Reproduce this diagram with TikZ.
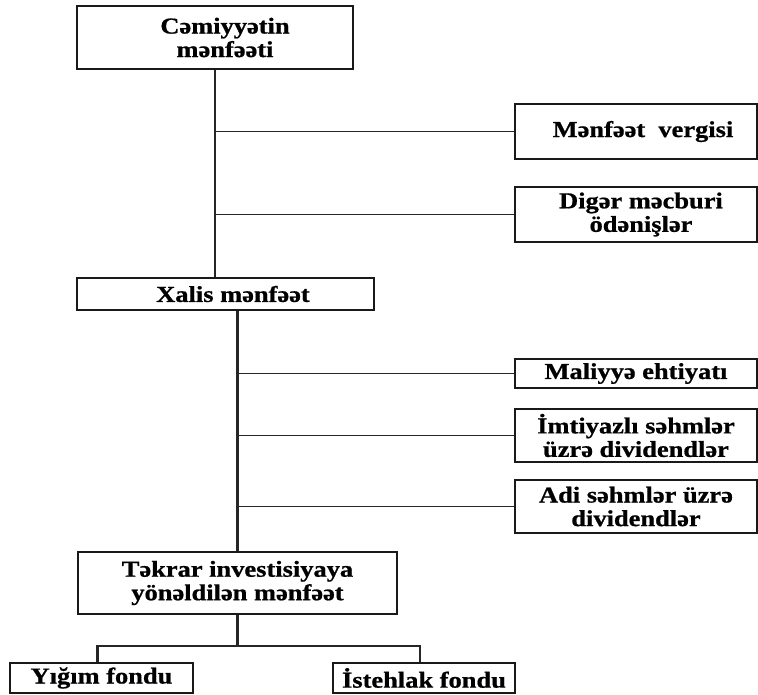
\documentclass[tikz,border=0pt]{standalone}
\usepackage{fontspec}
\setmainfont{Liberation Serif}[FakeStretch=1.16,BoldFeatures={FakeStretch=1.16,FakeBold=0.8}]
\begin{document}
\begin{tikzpicture}[x=1pt,y=-1pt,
  box/.style={draw=black!90,line width=2pt,rectangle,inner sep=0pt,align=center,
    font=\fontsize{22.8}{23.5}\selectfont\bfseries},
  trunk/.style={draw=black!85,line width=2.8pt},
  branch/.style={draw=black!85,line width=1.6pt},
  link/.style={draw=black!85,line width=2.2pt}]
\useasboundingbox (0,0) rectangle (758,694);
\node[box,minimum width=276pt,minimum height=63pt] (b1) at (215,37.5) {\hspace*{20pt}Cəmiyyətin\\\hspace*{20pt}mənfəəti};
\node[box,minimum width=242pt,minimum height=55pt] (v) at (636,131.5) {\hspace*{14pt}Mənfəət\ \ vergisi};
\node[box,minimum width=242pt,minimum height=55pt] (d) at (636,214.5) {\hspace*{10pt}Digər məcburi\\\hspace*{10pt}ödənişlər};
\node[box,minimum width=297pt,minimum height=32pt] (x) at (225.5,294) {\hspace*{15pt}Xalis mənfəət};
\node[box,minimum width=242pt,minimum height=29pt] (m) at (636,373.5) {Maliyyə ehtiyatı};
\node[box,minimum width=242pt,minimum height=53pt] (i) at (636,435.5) {İmtiyazlı səhmlər\\üzrə dividendlər};
\node[box,minimum width=242pt,minimum height=53pt] (a) at (636,506.5) {Adi səhmlər üzrə\\dividendlər};
\node[box,minimum width=319pt,minimum height=62pt] (t) at (237.5,583) {Təkrar investisiyaya\\yönəldilən mənfəət};
\node[box,minimum width=183pt,minimum height=30pt] (y) at (101.5,678) {Yığım fondu};
\node[box,minimum width=182pt,minimum height=30pt] (s) at (424,678) {İstehlak fondu};
\coordinate (j) at (237.5,646);
\draw[trunk] (b1.south) -- (b1.south |- x.north);
\draw[branch] (b1.south |- v.west) -- (v.west);
\draw[branch] (b1.south |- d.west) -- (d.west);
\draw[trunk] (t.north |- x.south) -- (t.north);
\draw[branch] (t.north |- m.west) -- (m.west);
\draw[branch] (t.north |- i.west) -- (i.west);
\draw[branch] (t.north |- a.west) -- (a.west);
\draw[link] (t.south) -- (j);
\draw[link] ([xshift=-4pt]y.north) |- (j) -| ([xshift=-4pt]s.north);
\end{tikzpicture}
\end{document}
